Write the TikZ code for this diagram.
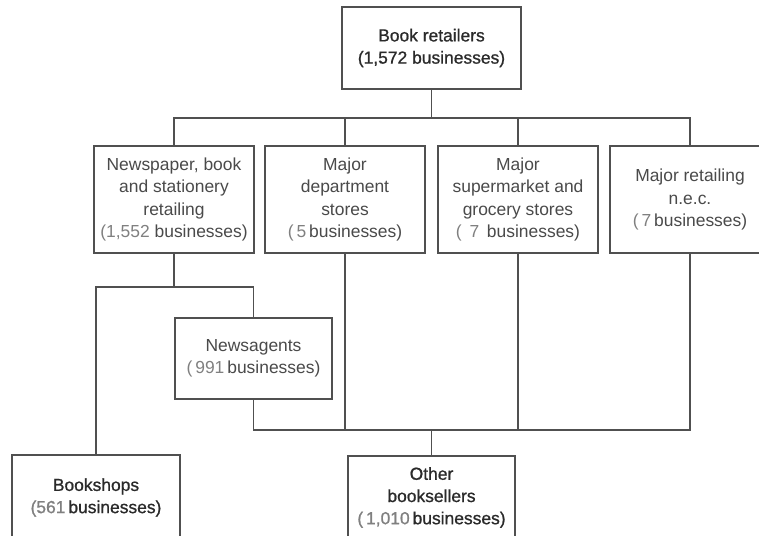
\documentclass[tikz,border=0pt]{standalone}
\usepackage{fontspec}
\setmainfont{Liberation Sans}
\newfontfamily\medfont{Liberation Sans}[FakeBold=0.9]
\definecolor{ln}{HTML}{505050}
\definecolor{dk}{HTML}{2A2A2A}
\definecolor{md}{HTML}{4A4A4A}
\definecolor{lt}{HTML}{808080}
\tikzset{
  box/.style={draw=ln, line width=1.2bp, fill=white, align=center, inner sep=0pt,
    font=\fontsize{17.5}{22.3}\selectfont, text=md},
  strong/.style={box, font=\medfont\fontsize{17.5}{22.3}\selectfont, text=dk},
  conn/.style={draw=ln, line width=1.2bp}
}
\newcommand{\num}[1]{\textcolor{lt}{#1}}
\begin{document}
\begin{tikzpicture}[x=1bp,y=-1bp]
\useasboundingbox (0,0) rectangle (759,536);
\clip (0,0) rectangle (759,536);
\node[strong, minimum width=179bp, minimum height=82bp] (top) at (431.5,48)
  {Book retailers\\(1,572 businesses)};
\node[box, minimum width=160bp, minimum height=107bp] (b1) at (174,199.5)
  {Newspaper, book\\and stationery\\retailing\\\num{(1,552} businesses)};
\node[box, minimum width=160bp, minimum height=107bp] (b2) at (345,199.5)
  {Major\\department\\stores\\\num{(\,5}\,businesses)};
\node[box, minimum width=160bp, minimum height=107bp] (b3) at (518,199.5)
  {Major\\supermarket and\\grocery stores\\\num{(\ \,7\ }\,businesses)};
\node[box, minimum width=160bp, minimum height=107bp] (b4) at (690,199.5)
  {Major retailing\\n.e.c.\\\num{(\,7}\,businesses)};
\node[box, minimum width=157bp, minimum height=81bp] (na) at (253.5,358.5)
  {Newsagents\\\num{(\,991}\,businesses)};
\node[strong, minimum width=168bp, minimum height=85bp] (bs) at (96,497.5)
  {Bookshops\\\num{(561}\,businesses)};
\node[strong, minimum width=167bp, minimum height=83bp] (ob) at (431.5,497.5)
  {Other\\booksellers\\\num{(\,1,010}\,businesses)};
\coordinate (bus) at (431.5,118);
\coordinate (split) at (174,287);
\coordinate (join) at (431.5,430);
\draw[conn] (top.south) -- (bus);
\draw[conn] (b1.north) |- (b4.north |- bus) -- (b4.north);
\draw[conn] (b2.north) -- (b2.north |- bus);
\draw[conn] (b3.north) -- (b3.north |- bus);
\draw[conn] (b1.south) -- (split);
\draw[conn] (bs.north) |- (split) -| (na.north);
\draw[conn] (na.south) |- (b4.south |- join) -- (b4.south);
\draw[conn] (b2.south) -- (b2.south |- join);
\draw[conn] (b3.south) -- (b3.south |- join);
\draw[conn] (join) -- (ob.north);
\end{tikzpicture}
\end{document}
